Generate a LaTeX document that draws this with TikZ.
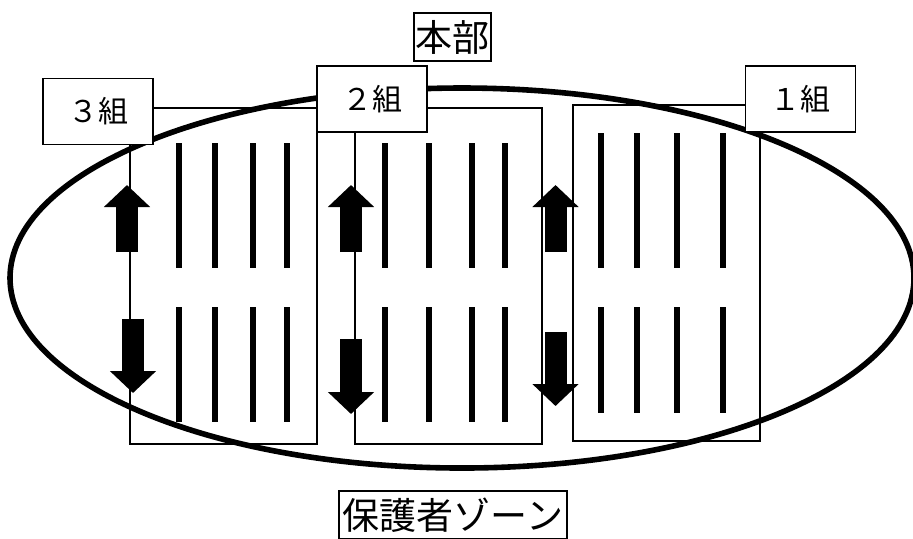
\documentclass[tikz,border=0pt]{standalone}
\usepackage{fontspec}
\setmainfont{Noto Sans CJK JP}
\usetikzlibrary{arrows.meta}
\tikzset{groupbox/.style={draw, fill=white, line width=0.8pt, minimum width=55pt, minimum height=33pt, inner sep=0pt, font=\fontsize{15}{15}\selectfont},
  titlebox/.style={draw, fill=white, line width=1.3pt, inner sep=0.5pt, minimum height=24pt, font=\fontsize{18.5}{18.5}\selectfont},
  frame/.style={line width=1pt}, lane/.style={line width=3pt},
  flow/.style={line width=11pt, -{Triangle[width=22.5pt,length=11pt]}}}

\begin{document}
\begin{tikzpicture}[x=0.5pt, y=-0.5pt]
    \useasboundingbox (0,0) rectangle (913,538);

    % class areas
    \draw[frame]    (130,108) rectangle (317,444);
    \draw[frame]    (355,108) rectangle (542,444);
    \draw[frame]    (573,105) rectangle (760,441);

    % rows of seats
    \foreach \x in {179,215,253,287,385,429,472,505}
        {\draw[lane] (\x,143) -- (\x,268); \draw[lane] (\x,307) -- (\x,422);}
    \foreach \x in {601,637,677,723}
        {\draw[lane] (\x,133) -- (\x,268); \draw[lane] (\x,307) -- (\x,413);}

    % flow of movement
    \draw[flow]     (127,252) -- (127,185);
    \draw[flow]     (351,252) -- (351,185);
    \draw[flow]     (555.5,252) -- (555.5,185);
    \draw[flow]     (133,319) -- (133,393);
    \draw[flow]     (351,339) -- (351,414);
    \draw[flow]     (555.5,332) -- (555.5,406);

    % zone
    \draw[line width=2.8pt] (462,278) ellipse [x radius=226pt, y radius=95pt];

    \node[groupbox]                          (c3) at (98,111.5) {３組};
    \node[groupbox]                          (c2) at (372,99)   {２組};
    \node[groupbox]                          (c1) at (800.5,99) {１組};
    \node[titlebox, minimum width=38.5pt]    (hq) at (452.5,37) {本部};
    \node[titlebox, minimum width=114pt]     (pz) at (453,515) {保護者ゾーン};
\end{tikzpicture}
\end{document}
